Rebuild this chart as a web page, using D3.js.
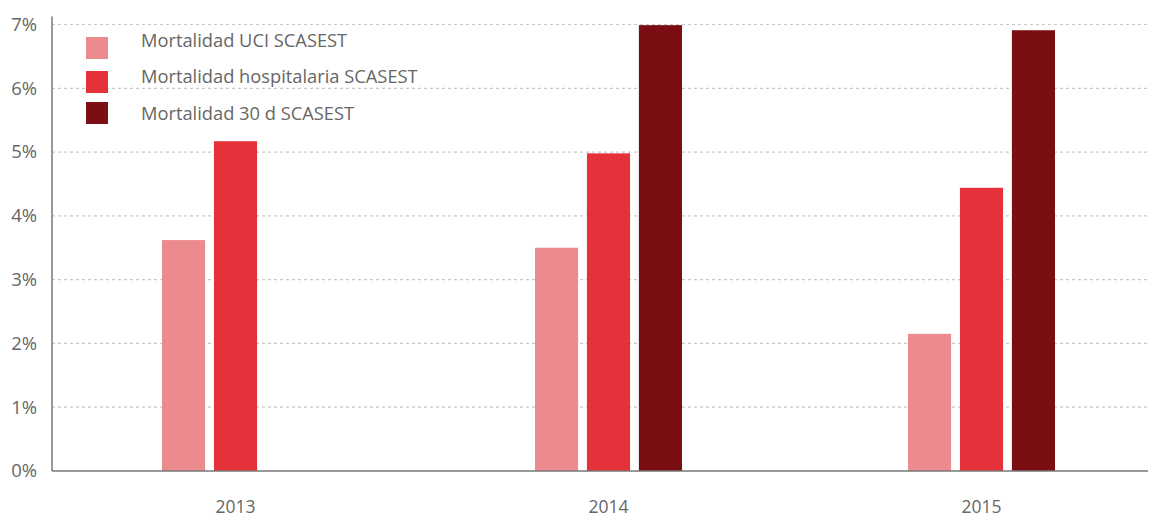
<!DOCTYPE html>
<html>
<head>
<meta charset="utf-8">
<script src="https://cdn.jsdelivr.net/npm/d3@7"></script>
<style>
  html, body { margin: 0; padding: 0; background: #fff; }
  svg text { font-family: "Open Sans", "DejaVu Sans", sans-serif; fill: #666; }
</style>
</head>
<body>
<svg id="chart" width="1152" height="516"></svg>
<script>
const years = ["2013", "2014", "2015"];
const seriesNames = ["Mortalidad UCI SCASEST", "Mortalidad hospitalaria SCASEST", "Mortalidad 30 d SCASEST"];
const uci = [3.62, 3.50, 2.15];
const hospitalaria = [5.17, 4.98, 4.44];
const treintaDias = [null, 6.99, 6.91];
const yTicks = [0, 1, 2, 3, 4, 5, 6, 7];
const colors = ["#EB8A8F", "#E5323A", "#7A0E12"];

const series = [uci, hospitalaria, treintaDias];

const svg = d3.select("#chart");
const plotLeft = 52, plotRight = 1148, plotTop = 24.5, plotBottom = 471;

const x = d3.scaleBand().domain(years).range([49, 1168]);
const xSub = d3.scaleBand().domain(d3.range(series.length)).range([x.bandwidth() / 2 - 73.5, x.bandwidth() / 2 + 73.5]).paddingInner(0.17);
const y = d3.scaleLinear().domain([0, 7]).range([plotBottom, plotTop]);

// horizontal grid
svg.append("g")
  .selectAll("line")
  .data(yTicks.filter(d => d > 0))
  .join("line")
  .attr("x1", plotLeft).attr("x2", plotRight)
  .attr("y1", d => y(d)).attr("y2", d => y(d))
  .attr("stroke", "#c9c9c9")
  .attr("stroke-width", 1.2)
  .attr("stroke-dasharray", "3,3");

// y axis labels
const yAxis = d3.axisLeft(y).tickValues(yTicks).tickFormat(d => d + "%").tickSize(0).tickPadding(15);
const yg = svg.append("g").attr("transform", `translate(${plotLeft},0)`).call(yAxis);
yg.select(".domain").remove();
yg.selectAll("text").style("font-size", "18.5px").attr("fill", "#666");

// bars
const groups = svg.append("g")
  .selectAll("g")
  .data(years)
  .join("g")
  .attr("transform", d => `translate(${x(d)},0)`);

groups.selectAll("rect")
  .data((d, i) => series.map((s, k) => ({ k, v: s[i] })).filter(e => e.v != null))
  .join("rect")
  .attr("x", d => xSub(d.k))
  .attr("width", xSub.bandwidth())
  .attr("y", d => y(d.v))
  .attr("height", d => y(0) - y(d.v))
  .attr("fill", d => colors[d.k]);

// axes lines
svg.append("line")
  .attr("x1", plotLeft).attr("x2", plotLeft)
  .attr("y1", plotTop - 8).attr("y2", plotBottom)
  .attr("stroke", "#777").attr("stroke-width", 1.5);
svg.append("line")
  .attr("x1", plotLeft).attr("x2", plotRight)
  .attr("y1", plotBottom).attr("y2", plotBottom)
  .attr("stroke", "#777").attr("stroke-width", 1.5);

// x axis labels
const xAxis = d3.axisBottom(x).tickSize(0).tickPadding(30);
const xg = svg.append("g").attr("transform", `translate(0,${plotBottom})`).call(xAxis);
xg.select(".domain").remove();
xg.selectAll("text").style("font-size", "17.5px").attr("fill", "#666");

// legend
const swatchTops = [37, 71, 102];
const labelMids = [41, 77, 114];
const legend = svg.append("g");
const items = legend.selectAll("g")
  .data(seriesNames)
  .join("g");
items.append("rect")
  .attr("x", 86).attr("y", (d, i) => swatchTops[i])
  .attr("width", 22).attr("height", 22)
  .attr("fill", (d, i) => colors[i]);
items.append("text")
  .attr("x", 141).attr("y", (d, i) => labelMids[i])
  .attr("dy", "0.35em")
  .style("font-size", "18.3px")
  .text(d => d);
</script>
</body>
</html>
